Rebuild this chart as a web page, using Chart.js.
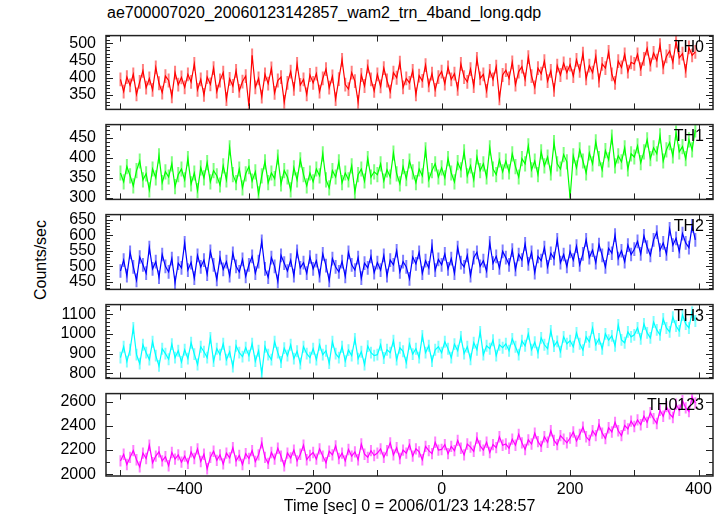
<!DOCTYPE html>
<html>
<head>
<meta charset="utf-8">
<script src="https://cdn.jsdelivr.net/npm/chart.js@4.4.1/dist/chart.umd.min.js"></script>
<style>
  body { margin: 0; background: #fff; }
  #wrap { position: relative; width: 723px; height: 516px; font-family: 'Liberation Sans', Arial, sans-serif; color: #000; }
  #wrap canvas { position: absolute; left: 0; }
  #title { position: absolute; left: 107px; top: 4px; font-size: 16px; white-space: nowrap; }
  #ylab { position: absolute; left: 41px; top: 260px; font-size: 16px; white-space: nowrap; transform: translate(-50%, -50%) rotate(-90deg); }
</style>
</head>
<body>
<div id="wrap">
  <div id="title">ae700007020_20060123142857_wam2_trn_4band_long.qdp</div>
  <div id="ylab">Counts/sec</div>
</div>
<script>
// light curve, 5 s bins starting at -500 s
const binStart = -500;
const binWidth = 5;

const th0 = [
  395, 360, 402, 378, 410, 352, 388, 420, 371, 398, 365, 430, 384, 357, 405, 392, 346, 415, 380, 401,
  372, 410, 388, 440, 365, 395, 350, 402, 381, 428, 360, 392, 415, 338, 397, 376, 420, 362, 389, 405,
  318, 465, 372, 398, 345, 410, 383, 427, 356, 392, 402, 330, 385, 418, 368, 440, 379, 395, 352, 408,
  385, 412, 360, 398, 425, 371, 404, 338, 396, 452, 380, 367, 415, 390, 330, 408, 376, 433, 395, 362,
  410, 375, 428, 392, 360, 415, 400, 444, 372, 398, 385, 420, 352, 406, 391, 437, 378, 412, 365, 402,
  418, 383, 430, 395, 412, 368, 440, 402, 388, 425, 376, 455, 398, 410, 362, 420, 395, 432, 340, 408,
  422, 398, 445, 380, 418, 432, 395, 460, 405, 372, 428, 412, 448, 390, 420, 365, 435, 408, 442, 415,
  438, 405, 452, 420, 470, 398, 435, 415, 462, 392, 440, 428, 475, 410, 385, 448, 430, 468, 418, 445,
  440, 468, 425, 455, 485, 438, 472, 450, 495, 430, 462, 478, 445, 505, 458, 470, 420, 488, 465, 475
];
const th1 = [
  362, 340, 378, 355, 330, 368, 392, 345, 360, 320, 372, 350, 405, 338, 365, 352, 385, 328, 358, 372,
  345, 398, 335, 362, 318, 375, 350, 388, 340, 368, 355, 332, 380, 345, 425, 358, 338, 372, 325, 360,
  378, 342, 365, 310, 355, 390, 338, 362, 348, 402, 335, 368, 352, 320, 375, 345, 395, 358, 330, 362,
  340, 372, 355, 410, 345, 325, 368, 352, 390, 338, 362, 345, 380, 315, 358, 372, 342, 398, 352, 365,
  358, 385, 342, 370, 352, 412, 360, 335, 378, 348, 392, 365, 338, 372, 355, 420, 345, 368, 385, 352,
  375, 350, 398, 362, 340, 388, 370, 415, 355, 380, 345, 402, 368, 385, 352, 425, 372, 358, 395, 365,
  392, 365, 410, 378, 352, 398, 385, 430, 370, 392, 358, 415, 380, 402, 362, 438, 385, 372, 408, 390,
  300, 405, 375, 420, 392, 362, 412, 385, 440, 398, 370, 418, 395, 452, 380, 405, 390, 425, 372, 410,
  402, 430, 388, 415, 445, 398, 425, 410, 455, 392, 420, 438, 405, 462, 415, 428, 398, 445, 420, 470
];
const th2 = [
  485, 520, 470, 545, 498, 455, 530, 505, 478, 560, 492, 515, 465, 538, 500, 482, 525, 448, 510, 495,
  575, 488, 512, 462, 535, 498, 520, 475, 548, 505, 458, 528, 490, 515, 470, 542, 500, 482, 522, 468,
  505, 532, 478, 515, 580, 492, 465, 528, 500, 452, 535, 510, 485, 520, 470, 548, 495, 512, 478, 530,
  492, 518, 470, 540, 502, 455, 525, 498, 482, 515, 468, 545, 505, 488, 528, 462, 510, 495, 532, 480,
  512, 488, 535, 470, 520, 505, 550, 482, 515, 498, 460, 530, 508, 545, 478, 518, 495, 565, 488, 522,
  505, 540, 492, 525, 478, 560, 512, 498, 535, 470, 528, 545, 500, 518, 485, 575, 510, 532, 495, 548,
  528, 505, 552, 490, 538, 520, 572, 508, 545, 480, 532, 518, 560, 498, 542, 525, 585, 512, 538, 500,
  548, 520, 565, 505, 540, 585, 528, 552, 512, 570, 535, 498, 558, 542, 600, 525, 550, 515, 568, 538,
  555, 580, 540, 598, 562, 535, 585, 610, 552, 575, 540, 620, 568, 590, 548, 605, 575, 560, 630, 585
];
const th3 = [
  880, 935, 860, 920, 1030, 895, 850, 945, 905, 870, 960, 890, 838, 925, 900, 872, 948, 880, 915, 858,
  920, 875, 955, 898, 845, 935, 910, 880, 980, 862, 925, 895, 950, 870, 910, 835, 940, 905, 885, 930,
  890, 950, 862, 915, 800, 935, 895, 870, 960, 905, 858, 928, 890, 945, 875, 912, 850, 935, 900, 880,
  925, 870, 945, 895, 915, 852, 960, 900, 880, 935, 862, 918, 890, 975, 875, 910, 845, 938, 905, 890,
  895, 945, 878, 920, 905, 965, 870, 930, 912, 855, 950, 898, 925, 880, 990, 905, 940, 862, 920, 935,
  905, 960, 925, 880, 948, 915, 985, 900, 935, 872, 955, 920, 1010, 895, 940, 925, 968, 890, 945, 930,
  950, 915, 975, 935, 895, 965, 940, 1000, 920, 958, 905, 980, 945, 925, 1015, 938, 962, 910, 985, 950,
  965, 935, 1005, 950, 918, 985, 960, 1030, 945, 975, 925, 1000, 968, 990, 940, 1045, 970, 955, 1010, 985,
  995, 1030, 975, 1050, 1005, 980, 1060, 1020, 995, 1075, 1030, 1010, 1085, 1040, 1015, 1095, 1050, 1030, 1110, 1065
];
const th0123 = [
  2110, 2165, 2080, 2140, 2195, 2120, 2060, 2175, 2130, 2240, 2095, 2150, 2185, 2110, 2145, 2070, 2180, 2125, 2160, 2100,
  2150, 2090, 2185, 2130, 2210, 2105, 2165, 2045, 2140, 2190, 2115, 2160, 2085, 2175, 2135, 2220, 2110, 2155, 2080, 2170,
  2130, 2195, 2105, 2160, 2260, 2140, 2090, 2180, 2125, 2215, 2150, 2070, 2175, 2135, 2200, 2110, 2165, 2240, 2120, 2155,
  2180, 2125, 2210, 2150, 2095, 2190, 2160, 2235, 2130, 2175, 2110, 2205, 2150, 2185, 2120, 2250, 2165, 2140, 2195, 2155,
  2175, 2210, 2140, 2195, 2260, 2160, 2220, 2130, 2200, 2175, 2245, 2150, 2210, 2185, 2120, 2230, 2195, 2170, 2265, 2200,
  2205, 2245, 2170, 2230, 2195, 2280, 2215, 2160, 2250, 2225, 2190, 2300, 2235, 2200, 2265, 2180, 2245, 2220, 2310, 2240,
  2250, 2215, 2290, 2240, 2330, 2260, 2205, 2285, 2250, 2340, 2270, 2230, 2310, 2265, 2360, 2280, 2245, 2320, 2290, 2260,
  2300, 2350, 2275, 2330, 2390, 2310, 2280, 2360, 2320, 2410, 2340, 2295, 2385, 2350, 2430, 2360, 2320, 2405, 2375, 2440,
  2395, 2450, 2410, 2480, 2430, 2510, 2460, 2420, 2530, 2480, 2560, 2500, 2470, 2580, 2530, 2610, 2550, 2520, 2640, 2590
];

const bandSeries = [th0, th1, th2, th3, th0123];
const bandNames = ['TH0', 'TH1', 'TH2', 'TH3', 'TH0123'];
const bandErrors = [20, 19, 22, 30, 47];
const bandColors = ['#ff0000', '#00ff00', '#0000ff', '#00ffff', '#ff00ff'];
const errColors = ['rgba(255,0,0,0.5)', 'rgba(0,255,0,0.5)', 'rgba(0,0,255,0.5)', 'rgba(0,255,255,0.5)', 'rgba(255,0,255,0.5)'];

const xRange = [-522.5, 422.5];
const xTickMarks = [-500, -400, -300, -200, -100, 0, 100, 200, 300, 400];
const xTickLabels = [-400, -200, 0, 200, 400];
const yRanges = [[308, 522.5], [296, 483], [426, 666], [775, 1148], [1985, 2668]];
const yTickLabels = [
  [350, 400, 450, 500],
  [300, 350, 400, 450],
  [450, 500, 550, 600, 650],
  [800, 900, 1000, 1100],
  [2000, 2200, 2400, 2600]
];
const yMinorSteps = [10, 10, 10, 20, 100];

const panelTops = [28, 117, 207, 297, 386];
const plotBottom = 476;
const pad = 12;
const font = { family: "'Liberation Sans', Arial, sans-serif", size: 16 };

const times = th0.map((v, i) => binStart + binWidth * i);

const panelPlugin = {
  id: 'panel',
  beforeDatasetsDraw(chart, args, o) {
    const { ctx, chartArea: a, scales: { x, y } } = chart;
    ctx.save();
    ctx.beginPath();
    ctx.rect(a.left, a.top, a.right - a.left, a.bottom - a.top);
    ctx.clip();
    ctx.strokeStyle = o.errColor;
    ctx.lineWidth = 2;
    ctx.beginPath();
    chart.data.datasets[0].data.forEach(p => {
      const px = x.getPixelForValue(p.x);
      ctx.moveTo(px, y.getPixelForValue(p.y - o.err));
      ctx.lineTo(px, y.getPixelForValue(p.y + o.err));
    });
    ctx.stroke();
    ctx.restore();
  },
  afterDraw(chart, args, o) {
    const { ctx, chartArea: a, scales: { x, y } } = chart;
    ctx.save();
    ctx.strokeStyle = '#222';
    ctx.lineWidth = 1;
    ctx.beginPath();
    xTickMarks.forEach(v => {
      const px = Math.round(x.getPixelForValue(v)) + 0.5;
      ctx.moveTo(px, a.top); ctx.lineTo(px, a.top + 6);
      ctx.moveTo(px, a.bottom); ctx.lineTo(px, a.bottom - 6);
    });
    for (let v = Math.ceil(y.min / o.minor) * o.minor; v <= y.max; v += o.minor) {
      const py = Math.round(y.getPixelForValue(v)) + 0.5;
      const len = o.major.includes(v) ? 7 : 4;
      ctx.moveTo(a.left, py); ctx.lineTo(a.left + len, py);
      ctx.moveTo(a.right, py); ctx.lineTo(a.right - len, py);
    }
    ctx.stroke();
    ctx.lineWidth = 1.5;
    ctx.strokeRect(a.left, a.top, a.right - a.left, a.bottom - a.top);
    ctx.fillStyle = '#000';
    ctx.font = "16px 'Liberation Sans', Arial, sans-serif";
    ctx.textAlign = 'right';
    ctx.textBaseline = 'alphabetic';
    ctx.fillText(o.name, a.right - 9, a.top + 16);
    ctx.restore();
  }
};

const wrap = document.getElementById('wrap');

bandSeries.forEach((series, i) => {
  const last = i === bandSeries.length - 1;
  const top = panelTops[i];
  const bottom = last ? plotBottom : panelTops[i + 1];
  const canvasTop = top - pad;
  const canvasH = last ? 516 - canvasTop : bottom - top + 2 * pad;

  const canvas = document.createElement('canvas');
  canvas.width = 723;
  canvas.height = canvasH;
  canvas.style.top = canvasTop + 'px';
  canvas.style.width = '723px';
  canvas.style.height = canvasH + 'px';
  wrap.appendChild(canvas);

  new Chart(canvas, {
    type: 'line',
    data: {
      datasets: [{
        data: series.map((v, k) => ({ x: times[k], y: v })),
        borderColor: bandColors[i],
        borderWidth: 1.2,
        pointRadius: 0,
        tension: 0
      }]
    },
    options: {
      responsive: false,
      animation: false,
      events: [],
      layout: { padding: { top: pad, bottom: last ? 0 : pad, left: 0, right: 10 } },
      plugins: {
        legend: { display: false },
        tooltip: { enabled: false },
        panel: {
          name: bandNames[i],
          err: bandErrors[i],
          errColor: errColors[i],
          major: yTickLabels[i],
          minor: yMinorSteps[i]
        }
      },
      scales: {
        x: {
          type: 'linear',
          min: xRange[0],
          max: xRange[1],
          display: last,
          grid: { display: false, drawTicks: false },
          border: { display: false },
          afterBuildTicks: s => { s.ticks = xTickLabels.map(v => ({ value: v })); },
          afterFit: s => { if (last) s.height = 40; },
          ticks: {
            color: '#000',
            font: font,
            padding: 4,
            maxRotation: 0,
            autoSkip: false,
            callback: v => (v < 0 ? '\u2212' + Math.abs(v) : String(v))
          },
          title: {
            display: true,
            text: 'Time [sec] 0 = 2006/01/23 14:28:57',
            color: '#000',
            font: font,
            padding: 0
          }
        },
        y: {
          min: yRanges[i][0],
          max: yRanges[i][1],
          grid: { display: false, drawTicks: false },
          border: { display: false },
          afterBuildTicks: s => { s.ticks = yTickLabels[i].map(v => ({ value: v })); },
          afterFit: s => { s.width = 106; },
          ticks: { color: '#000', font: font, padding: 10, autoSkip: false, callback: v => String(v) }
        }
      }
    },
    plugins: [panelPlugin]
  });
});
</script>
</body>
</html>
